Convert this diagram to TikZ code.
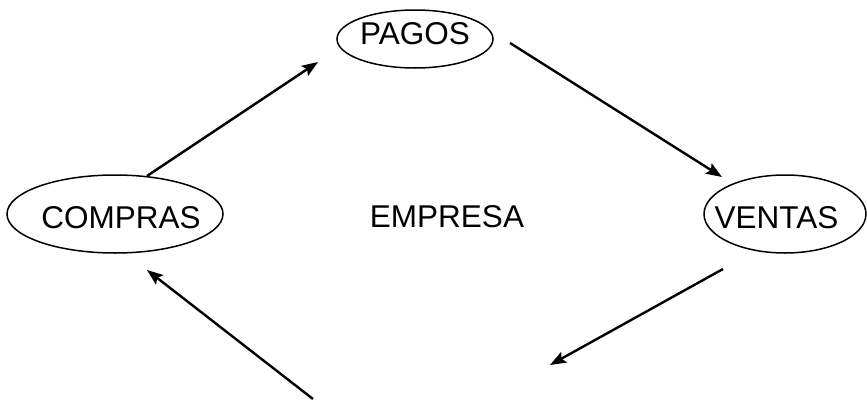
\documentclass[tikz,border=0pt]{standalone}
\usepackage{fontspec}
\setmainfont{Liberation Sans}
\usetikzlibrary{shapes.geometric,arrows.meta}
\tikzset{
  bubble/.style={draw, ellipse, line width=1.5pt, inner xsep=-60pt, inner ysep=-20pt,
    font=\fontsize{31.5}{37}\selectfont},
  plain/.style={inner sep=0pt, font=\fontsize{31.5}{37}\selectfont},
  flow/.style={line width=2.4pt, -{Stealth[length=16pt,width=12pt,inset=3pt]}},
}
\begin{document}
\begin{tikzpicture}[x=1pt,y=-1pt]
\useasboundingbox (0,0) rectangle (867,399);
% nodes
\node[bubble, minimum width=156pt, minimum height=58pt,
      text height=22pt, text depth=12pt] (pagos) at (415,39) {PAGOS};
\node[bubble, minimum width=216pt, minimum height=78pt,
      text height=28pt, text depth=0pt] (compras) at (115,214) {\kern12pt COMPRAS};
\node[bubble, minimum width=162pt, minimum height=78pt,
      text height=28pt, text depth=0pt] (ventas) at (785,214) {VENTAS\kern17pt};
\node[plain] (empresa) at (447,217) {EMPRESA};
% connector ends
\coordinate (a1s) at (147,176);
\coordinate (a1e) at (318,62);
\coordinate (a2s) at (510,43);
\coordinate (a2e) at (722,177);
\coordinate (a3s) at (723,269);
\coordinate (a3e) at (550,365);
\coordinate (a4s) at (313,399);
\coordinate (a4e) at (147,270);
% connectors
\draw[flow] (a1s) -- (a1e);
\draw[flow] (a2s) -- (a2e);
\draw[flow] (a3s) -- (a3e);
\draw[flow] (a4s) -- (a4e);
\end{tikzpicture}
\end{document}
